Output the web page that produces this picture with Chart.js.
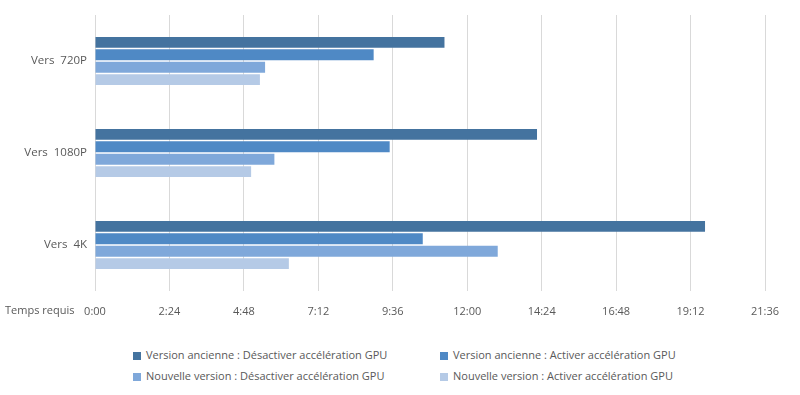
<!DOCTYPE html>
<html>
<head>
<meta charset="utf-8">
<script src="https://cdn.jsdelivr.net/npm/chart.js@4"></script>
<style>
  body { margin: 0; background: #fff; }
  .wrap { position: relative; width: 800px; height: 395px; font-family: "Open Sans", sans-serif; }
  canvas { position: absolute; left: 0; top: 0; }
  .legend { position: absolute; font-size: 11px; color: #595959; white-space: nowrap; }
  .legend span.box { display: inline-block; width: 8px; height: 8px; margin-right: 5px; vertical-align: -0.5px; }
</style>
</head>
<body>
<div class="wrap">
  <canvas id="chart" width="800" height="330"></canvas>
  <div id="legend"></div>
</div>
<script>
// time values as m:ss
const categories = ['Vers  720P', 'Vers  1080P', 'Vers  4K'];
const oldNoGpu = ['11:16', '14:15', '19:40'];
const oldGpu = ['8:59', '9:30', '10:34'];
const newNoGpu = ['5:29', '5:47', '12:59'];
const newGpu = ['5:19', '5:02', '6:15'];
const seriesNames = [
  'Version ancienne : Désactiver accélération GPU',
  'Version ancienne : Activer accélération GPU',
  'Nouvelle version : Désactiver accélération GPU',
  'Nouvelle version : Activer accélération GPU'
];
const colors = ['#44739f', '#4f89c5', '#7fa8da', '#b5cae6'];
const tickStep = 144; // 2:24
const tickMax = 1296; // 21:36

const toSec = s => { const p = s.split(':'); return +p[0] * 60 + +p[1]; };
const fmt = v => Math.floor(v / 60) + ':' + String(v % 60).padStart(2, '0');

const seriesData = [oldNoGpu, oldGpu, newNoGpu, newGpu];

const axisTitle = {
  id: 'axisTitle',
  afterDraw(chart) {
    const ctx = chart.ctx;
    ctx.save();
    ctx.font = '11px "Open Sans"';
    ctx.fillStyle = '#595959';
    ctx.textBaseline = 'middle';
    ctx.fillText('Temps requis', 5, 311);
    ctx.restore();
  }
};

new Chart(document.getElementById('chart'), {
  type: 'bar',
  data: {
    labels: categories,
    datasets: seriesData.map((d, i) => ({
      label: seriesNames[i],
      data: d.map(toSec),
      backgroundColor: colors[i],
      borderWidth: 0,
      categoryPercentage: 0.54,
      barPercentage: 0.88
    }))
  },
  options: {
    indexAxis: 'y',
    responsive: false,
    animation: false,
    layout: { padding: { top: 15, right: 35, bottom: 9, left: 0 } },
    plugins: { legend: { display: false }, tooltip: { enabled: false } },
    scales: {
      x: {
        min: 0,
        max: tickMax,
        ticks: {
          stepSize: tickStep,
          callback: v => fmt(v),
          color: '#595959',
          font: { family: 'Open Sans', size: 11 },
          padding: 14,
          maxRotation: 0
        },
        grid: { color: '#d9d9d9', drawTicks: false },
        border: { display: false },
        afterFit: s => { s.height = 30; }
      },
      y: {
        ticks: {
          color: '#595959',
          font: { family: 'Open Sans', size: 11.5 },
          padding: 8
        },
        grid: { display: false, drawTicks: false },
        border: { display: false },
        afterFit: s => { s.width = 95; }
      }
    }
  },
  plugins: [axisTitle]
});

// legend in two columns
const pos = [[133, 347], [440, 347], [133, 368], [440, 368]];
const legend = document.getElementById('legend');
seriesNames.forEach((name, i) => {
  const el = document.createElement('div');
  el.className = 'legend';
  el.style.left = pos[i][0] + 'px';
  el.style.top = pos[i][1] + 'px';
  el.innerHTML = '<span class="box" style="background:' + colors[i] + '"></span>' + name;
  legend.appendChild(el);
});
</script>
</body>
</html>
